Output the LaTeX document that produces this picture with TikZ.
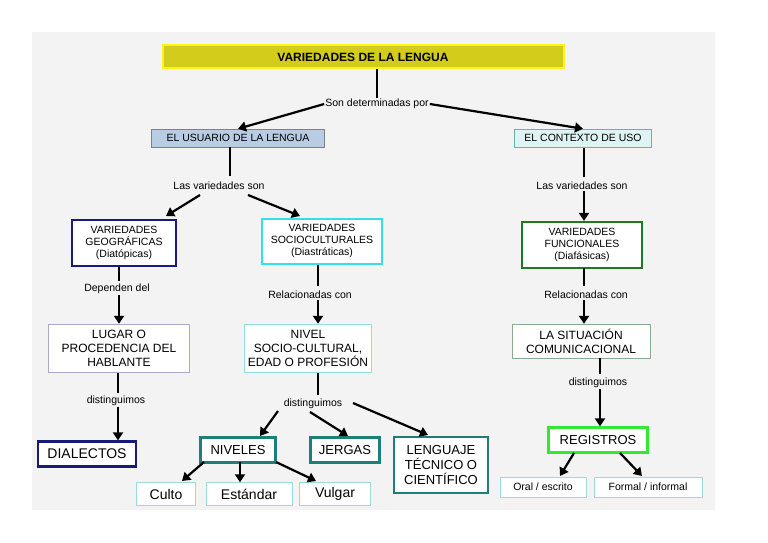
\documentclass[tikz,border=0pt]{standalone}
\usepackage{fontspec}
\setmainfont{Liberation Sans}
\usetikzlibrary{arrows.meta}
\definecolor{bgc}{HTML}{F3F3F3}
\definecolor{navy}{HTML}{1A1A7A}
\definecolor{cyanb}{HTML}{33E0E8}
\definecolor{teal2}{HTML}{1F7F78}
\definecolor{greenb}{HTML}{1E7A1E}
\definecolor{lime}{HTML}{33E833}
\definecolor{lightb}{HTML}{9ADCDC}
\tikzset{
 bx/.style={draw, fill=white, align=center, inner sep=1pt},
 lbl/.style={font=\fontsize{10.5}{12}\selectfont, inner sep=1pt},
 arr/.style={line width=2.2pt, -{Triangle[length=8pt,width=10pt]}},
 ln/.style={line width=2.2pt},
}
\begin{document}
\begin{tikzpicture}[x=1pt,y=-1pt]
\useasboundingbox (0,0) rectangle (768,543);
\fill[bgc] (32,32) rectangle (715,510);
% title
\node[draw=yellow!90!white, line width=2pt, fill={rgb,255:red,212;green,204;blue,26}, minimum width=401, minimum height=23, font=\bfseries\fontsize{12}{14}\selectfont] (t) at (363,57) {VARIEDADES DE LA LENGUA};
\node[lbl] (son) at (377,104) {Son determinadas por};
\node[draw=gray, fill={rgb,255:red,184;green,204;blue,228}, minimum width=173, minimum height=18, font=\fontsize{10.5}{12}\selectfont] (us) at (238,138) {EL USUARIO DE LA LENGUA};
\node[draw=teal!60, fill={rgb,255:red,222;green,243;blue,243}, minimum width=137, minimum height=18, font=\fontsize{10.5}{12}\selectfont] (ct) at (583,138) {EL CONTEXTO DE USO};
\draw[ln] (t.south -| son) -- (son.north);
\draw[arr] (son.west) -- (us.north);
\draw[arr] (son.east) -- (ct.north);
% left
\node[lbl] (lv1) at (219,186) {Las variedades son};
\draw[ln] (us.south -| 230,0) -- (230,176);
\node[bx, draw=navy, line width=2pt, minimum width=104, minimum height=46, font=\fontsize{10.5}{12}\selectfont] (geo) at (124,243) {VARIEDADES\\GEOGRÁFICAS\\(Diatópicas)};
\node[bx, draw=cyanb, line width=2pt, minimum width=120, minimum height=45, font=\fontsize{10.5}{12}\selectfont] (soc) at (322,241) {VARIEDADES\\SOCIOCULTURALES\\(Diastráticas)};
\draw[arr] (200,195) -- (166,216);
\draw[arr] (248,195) -- (300,216);
\node[lbl] (dep) at (117,289) {Dependen del};
\draw[ln] (119,267) -- (119,281);
\node[bx, draw={rgb,255:red,170;green,170;blue,200}, minimum width=141, minimum height=48, font=\fontsize{12}{14}\selectfont] (lug) at (119,348) {LUGAR O\\PROCEDENCIA DEL\\HABLANTE};
\draw[arr] (dep.south -| 119,0) -- (lug.north -| 119,0);
\node[lbl] (d1) at (116,401) {distinguimos};
\draw[ln] (118,373) -- (118,393);
\node[bx, draw=navy, line width=2.2pt, minimum width=98, minimum height=25, font=\fontsize{14}{16}\selectfont] (dia) at (87,454) {DIALECTOS};
\draw[arr] (d1.south -| 118,0) -- (dia.north -| 118,0);
% middle
\node[lbl] (rel1) at (310,295) {Relacionadas con};
\draw[ln] (318,265) -- (318,286);
\node[bx, draw=lightb, minimum width=127, minimum height=48, font=\fontsize{12}{14}\selectfont] (niv) at (308,348) {NIVEL\\SOCIO-CULTURAL,\\EDAD O PROFESIÓN};
\draw[arr] (rel1.south -| 318,0) -- (niv.north -| 318,0);
\node[lbl] (d2) at (313,404) {distinguimos};
\draw[ln] (318,373) -- (318,395);
\node[bx, draw=teal2, line width=2.2pt, minimum width=75, minimum height=25, font=\fontsize{13}{15}\selectfont] (nvs) at (238,450) {NIVELES};
\node[bx, draw=teal2, line width=2.2pt, minimum width=69, minimum height=25, font=\fontsize{13}{15}\selectfont] (jer) at (345,450) {JERGAS};
\node[bx, draw=teal2, line width=2.2pt, minimum width=94, minimum height=56, font=\fontsize{13}{15}\selectfont] (len) at (441,465) {LENGUAJE\\TÉCNICO O\\CIENTÍFICO};
\draw[arr] (278,411) -- (260,436);
\draw[arr] (310,412) -- (348,436);
\draw[arr] (353,403) -- (428,435);
\node[bx, draw=lightb, minimum width=59, minimum height=23, font=\fontsize{14}{16}\selectfont] (cul) at (166,494) {Culto};
\node[bx, draw=lightb, minimum width=86, minimum height=23, font=\fontsize{14}{16}\selectfont] (est) at (249,494) {Estándar};
\node[bx, draw=lightb, minimum width=71, minimum height=23, font=\fontsize{14}{16}\selectfont] (vul) at (335,494) {Vulgar};
\draw[arr] (204,462) -- (182,481);
\draw[arr] (240,462) -- (est.north -| 240,0);
\draw[arr] (276,462) -- (316,481);
% right
\node[lbl] (lv2) at (582,186) {Las variedades son};
\draw[ln] (584,148) -- (584,177);
\node[bx, draw=greenb, line width=2.2pt, minimum width=120, minimum height=46, font=\fontsize{10.5}{12}\selectfont] (fun) at (582,245) {VARIEDADES\\FUNCIONALES\\(Diafásicas)};
\draw[arr] (lv2.south -| 584,0) -- (fun.north -| 584,0);
\node[lbl] (rel2) at (586,295) {Relacionadas con};
\draw[ln] (584,268) -- (584,286);
\node[bx, draw={rgb,255:red,140;green,170;blue,140}, minimum width=138, minimum height=34, font=\fontsize{12}{14}\selectfont] (sit) at (581,341) {LA SITUACIÓN\\COMUNICACIONAL};
\draw[arr] (rel2.south -| 584,0) -- (sit.north -| 584,0);
\node[lbl] (d3) at (598,383) {distinguimos};
\draw[ln] (600,358) -- (600,374);
\node[bx, draw=lime, line width=2.2pt, minimum width=99, minimum height=25, font=\fontsize{13}{15}\selectfont] (reg) at (598,440) {REGISTROS};
\draw[arr] (d3.south -| 600,0) -- (reg.north -| 600,0);
\node[bx, draw=lightb, minimum width=86, minimum height=20, font=\fontsize{10.5}{12}\selectfont] (ora) at (543,487) {Oral / escrito};
\node[bx, draw=lightb, minimum width=108, minimum height=20, font=\fontsize{10.5}{12}\selectfont] (for) at (648,487) {Formal / informal};
\draw[arr] (574,453) -- (560,476);
\draw[arr] (620,453) -- (642,476);
\end{tikzpicture}
\end{document}
